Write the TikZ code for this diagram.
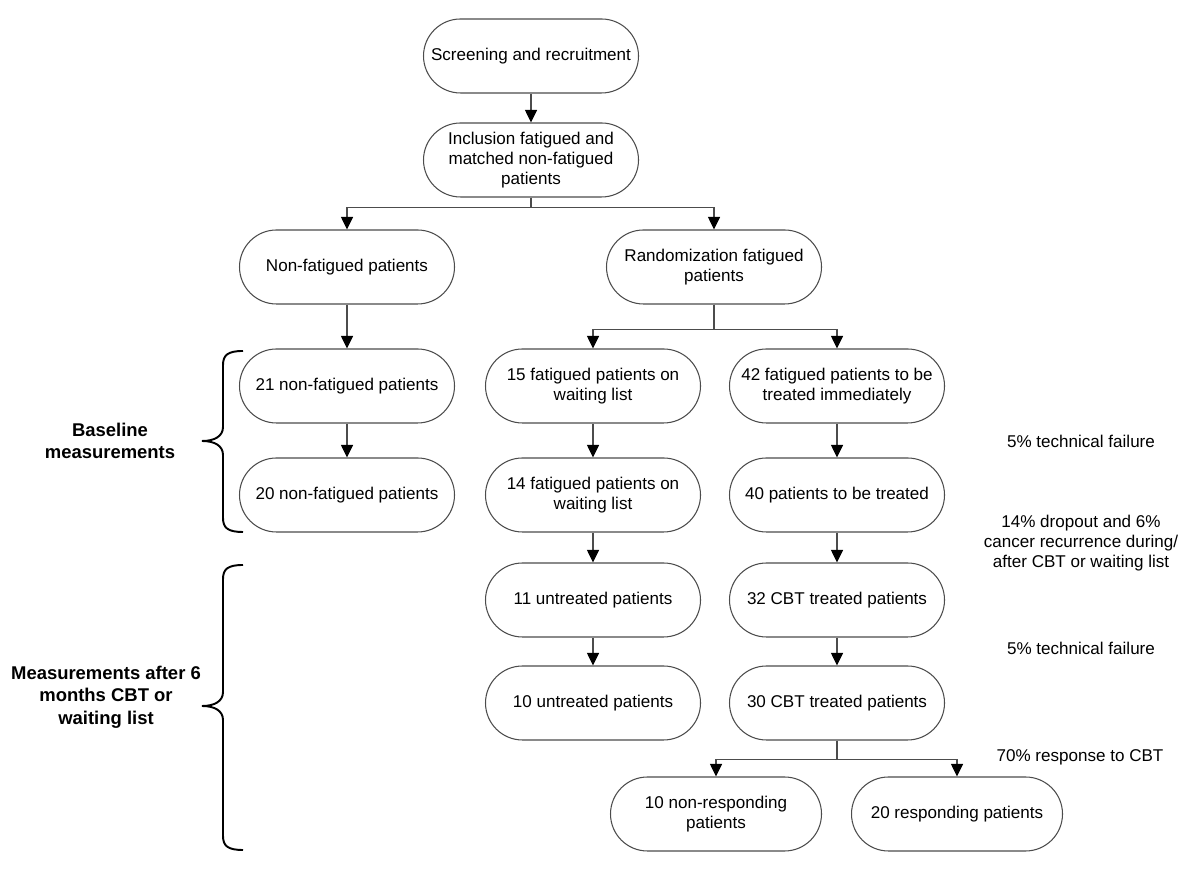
\documentclass[tikz,border=0pt]{standalone}
\usepackage{fontspec}
\setmainfont{Liberation Sans}
\usetikzlibrary{arrows.meta}

\begin{document}
\begin{tikzpicture}[scale=1,
  arr/.style={draw=black!70,line width=0.6pt,
    -{Triangle[width=0.24cm,length=0.25cm,color=black]}}]
\useasboundingbox (0,0) rectangle (24,17.42);

\begin{scope} % flow chart boxes
  [stadium/.style={draw=black!70,line width=0.6pt,rounded corners=0.74cm,
    minimum width=4.3cm,minimum height=1.48cm,inner sep=2pt,align=center,
    font=\fontsize{9.7}{11.4}\selectfont}]
  \node[stadium] (screen) at (10.62,16.30) {Screening and recruitment};
  \node[stadium] (incl) at (10.62,14.22) {Inclusion fatigued and\\matched non-fatigued\\patients};
  \node[stadium] (nonfat) at (6.94,12.08) {Non-fatigued patients};
  \node[stadium] (rand) at (14.28,12.08) {Randomization fatigued\\patients};
  \node[stadium] (nonfatA) at (6.94,9.70) {21 non-fatigued patients};
  \node[stadium] (nonfatB) at (6.94,7.52) {20 non-fatigued patients};
  \node[stadium] (waitA) at (11.86,9.70) {15 fatigued patients on\\waiting list};
  \node[stadium] (waitB) at (11.86,7.52) {14 fatigued patients on\\waiting list};
  \node[stadium] (untrA) at (11.86,5.42) {11 untreated patients};
  \node[stadium] (untrB) at (11.86,3.36) {10 untreated patients};
  \node[stadium] (treatA) at (16.74,9.70) {42 fatigued patients to be\\treated immediately};
  \node[stadium] (treatB) at (16.74,7.52) {40 patients to be treated};
  \node[stadium] (cbtA) at (16.74,5.42) {32 CBT treated patients};
  \node[stadium] (cbtB) at (16.74,3.36) {30 CBT treated patients};
  \node[stadium,minimum width=4.22cm] (nonresp) at (14.32,1.14) {10 non-responding\\patients};
  \node[stadium,minimum width=4.22cm] (resp) at (19.14,1.14) {20 responding patients};
\end{scope}

% straight arrows
\foreach \a/\b in {screen/incl,nonfat/nonfatA,nonfatA/nonfatB,waitA/waitB,
    waitB/untrA,untrA/untrB,treatA/treatB,treatB/cbtA,cbtA/cbtB}
  \draw[arr] (\a) -- (\b);

% split arrows
\draw[arr] (incl.south) -- ++(0,-0.2) -| (nonfat.north);
\draw[arr] (incl.south) -- ++(0,-0.2) -| (rand.north);
\draw[arr] (rand.south) -- ++(0,-0.5) -| (waitA.north);
\draw[arr] (rand.south) -- ++(0,-0.5) -| (treatA.north);
\draw[arr] (cbtB.south) -- ++(0,-0.38) -| (nonresp.north);
\draw[arr] (cbtB.south) -- ++(0,-0.38) -| (resp.north);

\begin{scope} % side notes
  [note/.style={align=center,font=\fontsize{9.7}{11.4}\selectfont}]
  \node[note] (failA) at (21.62,8.60) {5\% technical failure};
  \node[note] (drop) at (21.62,6.56) {14\% dropout and 6\%\\cancer recurrence during/\\after CBT or waiting list};
  \node[note] (failB) at (21.62,4.46) {5\% technical failure};
  \node[note] (respnote) at (21.60,2.28) {70\% response to CBT};
\end{scope}

\begin{scope}[line width=1.1pt] % braces with phase labels
  \draw (4.86,10.40) .. controls (4.56,10.40) and (4.46,10.32) .. (4.46,10.12)
    -- (4.46,8.88) .. controls (4.46,8.70) and (4.30,8.60) .. (4.04,8.60)
    .. controls (4.30,8.60) and (4.46,8.50) .. (4.46,8.32)
    -- (4.46,7.06) .. controls (4.46,6.86) and (4.56,6.78) .. (4.86,6.78);
  \draw (4.86,6.12) .. controls (4.56,6.12) and (4.46,6.04) .. (4.46,5.84)
    -- (4.46,3.58) .. controls (4.46,3.40) and (4.30,3.30) .. (4.04,3.30)
    .. controls (4.30,3.30) and (4.46,3.20) .. (4.46,3.02)
    -- (4.46,0.70) .. controls (4.46,0.50) and (4.56,0.42) .. (4.86,0.42);
  \node[align=center,font=\fontsize{10.5}{12.8}\selectfont\bfseries] (base)
    at (2.20,8.60) {Baseline\\measurements};
  \node[align=center,font=\fontsize{10.5}{12.8}\selectfont\bfseries] (after)
    at (2.12,3.48) {Measurements after 6\\months CBT or\\waiting list};
\end{scope}

\end{tikzpicture}
\end{document}
